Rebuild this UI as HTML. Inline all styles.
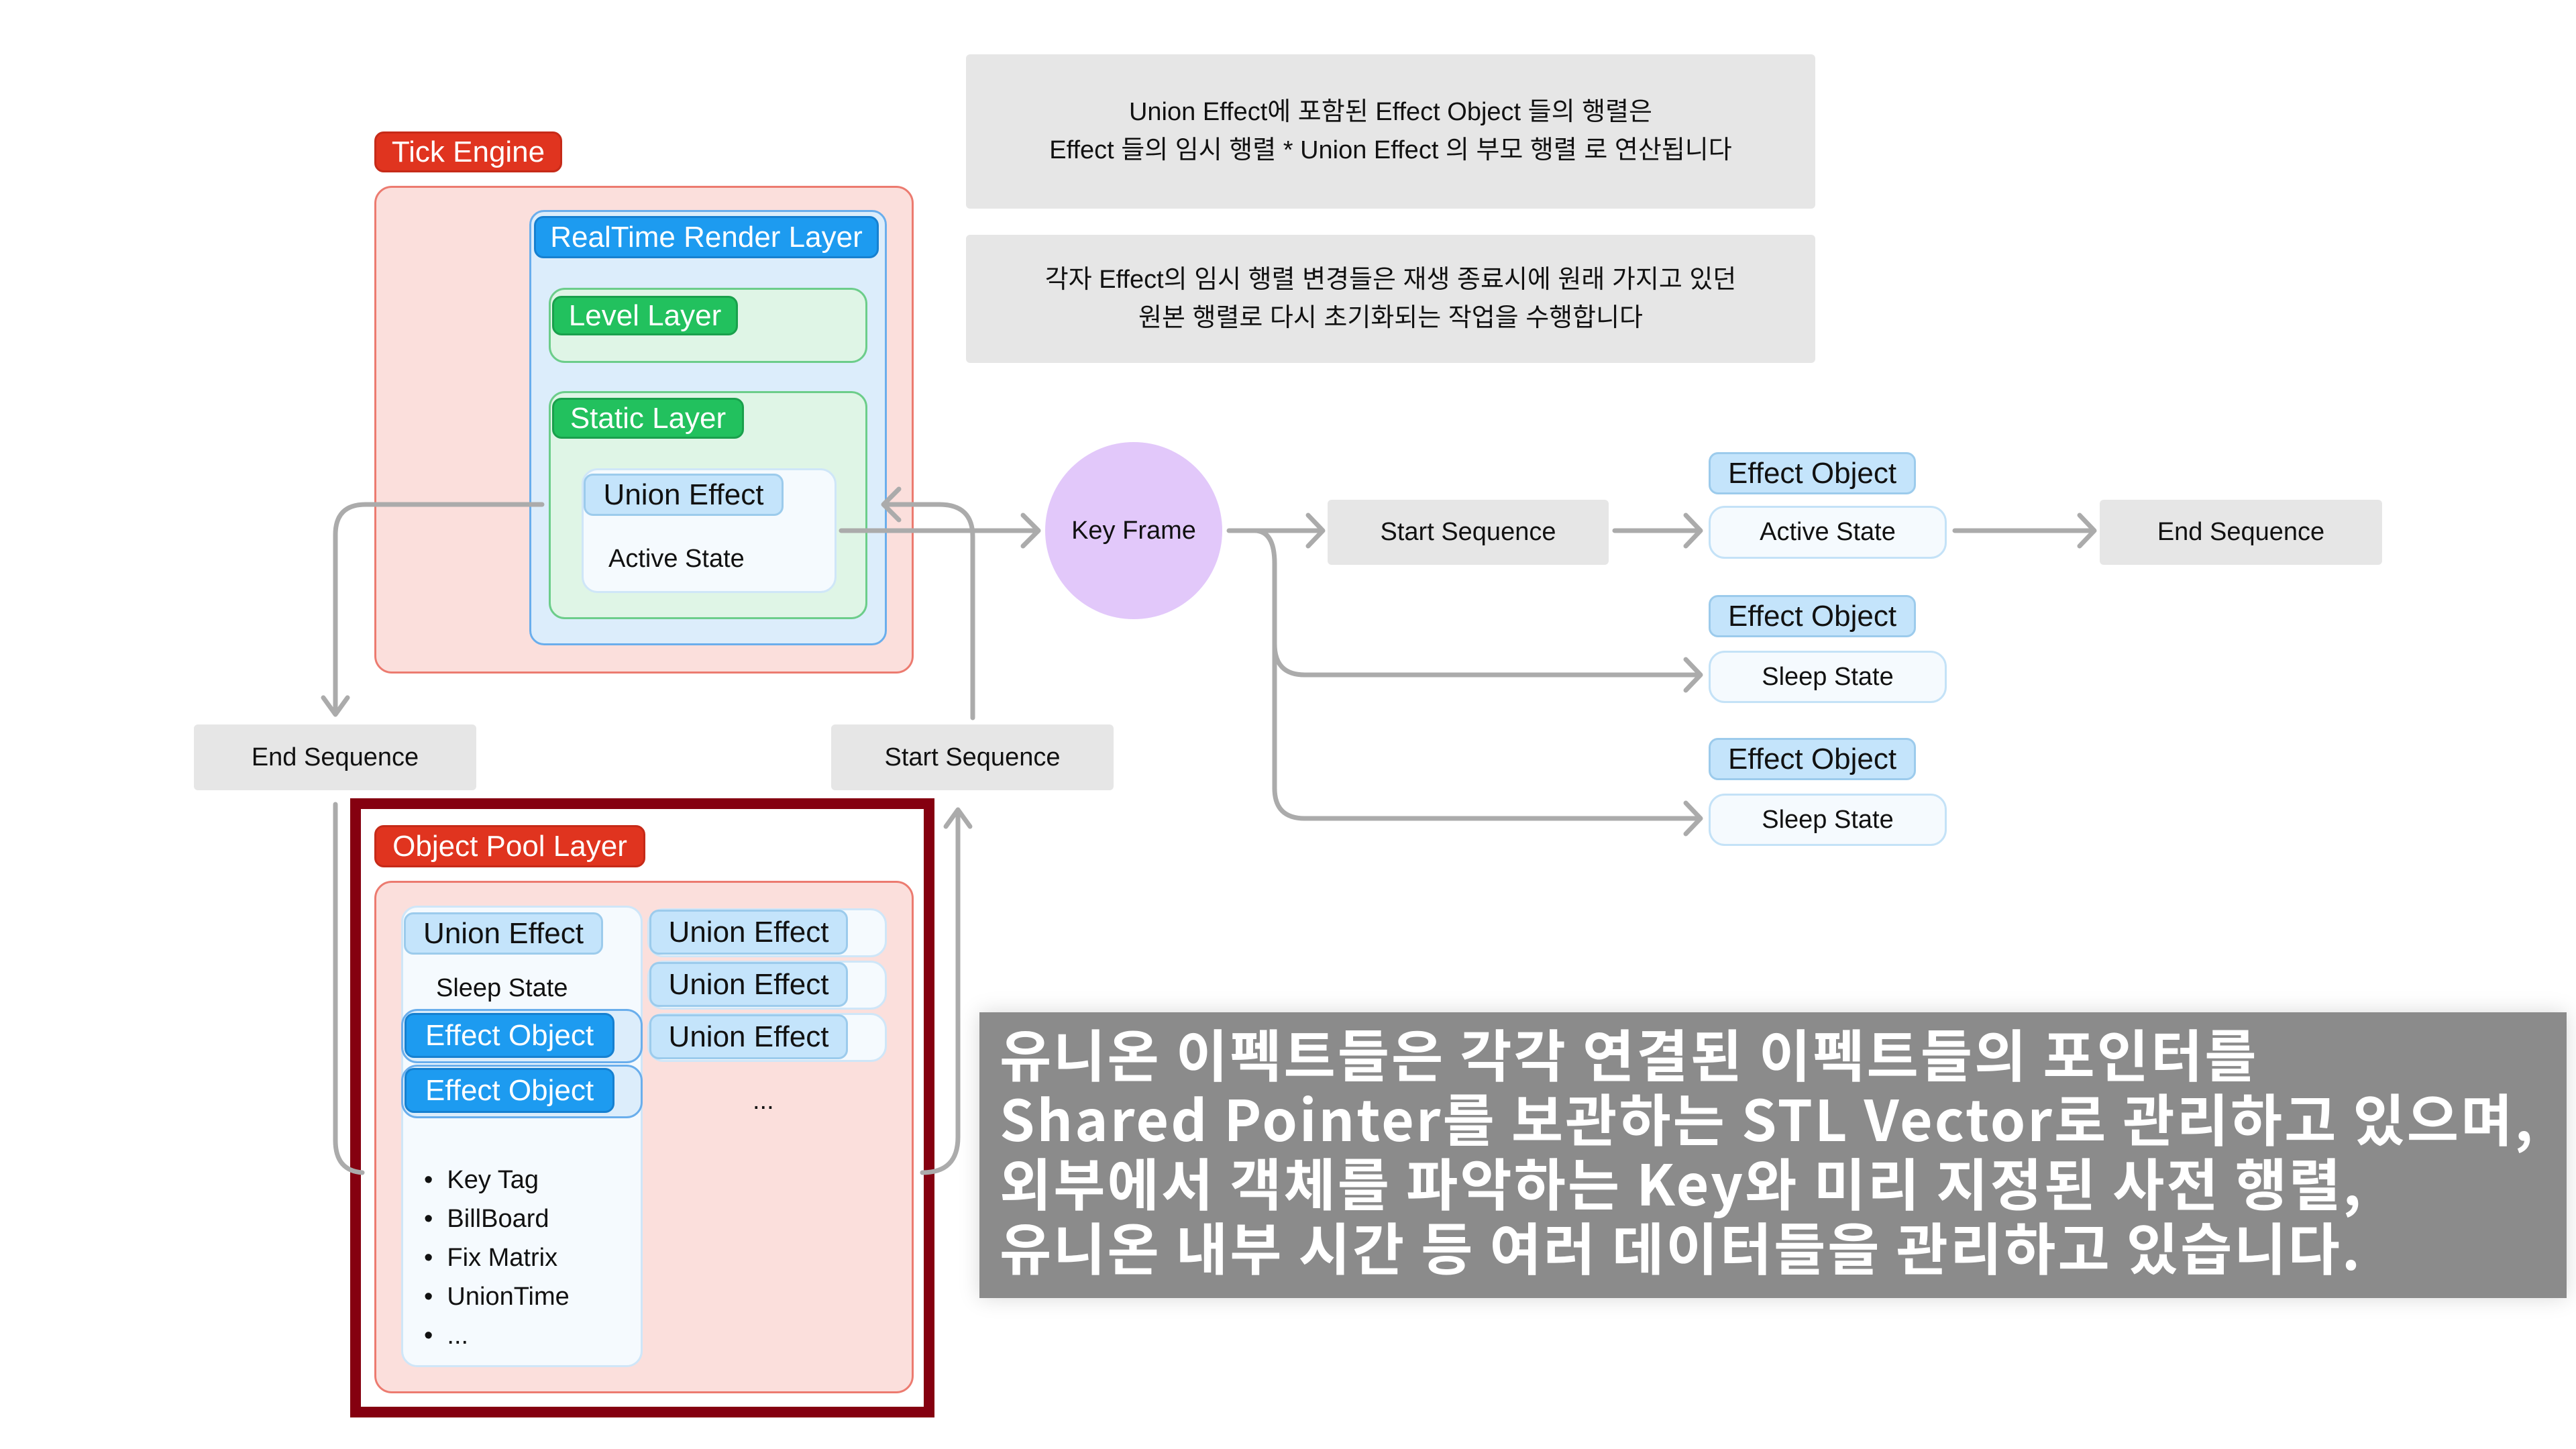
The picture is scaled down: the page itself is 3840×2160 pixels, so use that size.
<!DOCTYPE html>
<html><head><meta charset="utf-8"><style>
*{margin:0;padding:0;box-sizing:border-box}
body{width:3840px;height:2160px;background:#fff;position:relative;overflow:hidden;font-family:"Liberation Sans","Noto Sans CJK KR",sans-serif;color:#111}
.a{position:absolute}
.lbl{position:absolute;border-radius:14px;display:flex;align-items:center;justify-content:center;font-size:44px;white-space:nowrap}
.red{background:#e0341f;color:#fff;border:3px solid #c62a18}
.blue{background:#1d9bf0;color:#fff;border:3px solid #1680d0}
.green{background:#22c15e;color:#fff;border:3px solid #1aa04c}
.lb{background:#c4e4fb;color:#111;border:3px solid #9ccbec}
.gray{position:absolute;background:#e6e6e6;border-radius:6px;display:flex;align-items:center;justify-content:center;font-size:38px;text-align:center}
.st{position:absolute;background:#f5fafe;border:3px solid #c4e2f7;border-radius:24px;display:flex;align-items:center;justify-content:center;font-size:38px}
.t{position:absolute;font-size:38px;white-space:nowrap}
</style></head><body>

<div class="lbl red" style="left:558px;top:196px;width:280px;height:61px">Tick Engine</div>
<div class="a" style="left:558px;top:277px;width:804px;height:727px;background:#fbdfdc;border:3px solid #ec7b70;border-radius:26px"></div>
<div class="a" style="left:789px;top:313px;width:533px;height:649px;background:#dcedfb;border:3px solid #6aaeec;border-radius:22px"></div>
<div class="lbl blue" style="left:796px;top:322px;width:514px;height:63px">RealTime Render Layer</div>
<div class="a" style="left:818px;top:429px;width:475px;height:112px;background:#dff5e6;border:3px solid #6ccd8a;border-radius:24px"></div>
<div class="lbl green" style="left:823px;top:441px;width:277px;height:59px">Level Layer</div>
<div class="a" style="left:818px;top:583px;width:475px;height:340px;background:#dff5e6;border:3px solid #6ccd8a;border-radius:24px"></div>
<div class="lbl green" style="left:823px;top:593px;width:286px;height:61px">Static Layer</div>
<div class="a" style="left:867px;top:698px;width:380px;height:186px;background:#f5fafe;border:3px solid #cfe6f8;border-radius:24px"></div>
<div class="lbl lb" style="left:870px;top:706px;width:298px;height:63px">Union Effect</div>
<div class="t" style="left:907px;top:812px">Active State</div>

<div class="gray" style="left:1440px;top:81px;width:1266px;height:230px;line-height:57px">Union Effect에 포함된 Effect Object 들의 행렬은<br>Effect 들의 임시 행렬 * Union Effect 의 부모 행렬 로 연산됩니다</div>
<div class="gray" style="left:1440px;top:350px;width:1266px;height:191px;line-height:57px">각자 Effect의 임시 행렬 변경들은 재생 종료시에 원래 가지고 있던<br>원본 행렬로 다시 초기화되는 작업을 수행합니다</div>

<div class="a" style="left:1558px;top:659px;width:264px;height:264px;border-radius:50%;background:#e2c8fa;display:flex;align-items:center;justify-content:center;font-size:38px">Key Frame</div>

<div class="gray" style="left:1979px;top:745px;width:419px;height:97px">Start Sequence</div>
<div class="gray" style="left:3130px;top:745px;width:421px;height:97px">End Sequence</div>
<div class="lbl lb" style="left:2547px;top:674px;width:309px;height:63px">Effect Object</div>
<div class="st" style="left:2547px;top:754px;width:355px;height:79px">Active State</div>
<div class="lbl lb" style="left:2547px;top:887px;width:309px;height:63px">Effect Object</div>
<div class="st" style="left:2547px;top:970px;width:355px;height:78px">Sleep State</div>
<div class="lbl lb" style="left:2547px;top:1100px;width:309px;height:63px">Effect Object</div>
<div class="st" style="left:2547px;top:1183px;width:355px;height:78px">Sleep State</div>

<div class="gray" style="left:289px;top:1080px;width:421px;height:98px">End Sequence</div>
<div class="gray" style="left:1239px;top:1080px;width:421px;height:98px">Start Sequence</div>

<div class="a" style="left:522px;top:1190px;width:871px;height:923px;border:16px solid #850010"></div>
<div class="lbl red" style="left:558px;top:1230px;width:404px;height:63px">Object Pool Layer</div>
<div class="a" style="left:558px;top:1313px;width:804px;height:764px;background:#fbdfdc;border:3px solid #ec7b70;border-radius:26px"></div>
<div class="a" style="left:598px;top:1350px;width:360px;height:688px;background:#f5fafe;border:3px solid #cfe6f8;border-radius:24px"></div>
<div class="lbl lb" style="left:602px;top:1360px;width:297px;height:63px">Union Effect</div>
<div class="t" style="left:650px;top:1452px">Sleep State</div>
<div class="a" style="left:598px;top:1504px;width:360px;height:81px;background:#dcedfb;border:3px solid #6aaeec;border-radius:24px"></div>
<div class="lbl blue" style="left:603px;top:1510px;width:313px;height:67px">Effect Object</div>
<div class="a" style="left:598px;top:1587px;width:360px;height:80px;background:#dcedfb;border:3px solid #6aaeec;border-radius:24px"></div>
<div class="lbl blue" style="left:603px;top:1592px;width:313px;height:67px">Effect Object</div>
<div class="t" style="left:632px;top:1730px;line-height:58px">•&nbsp; Key Tag<br>•&nbsp; BillBoard<br>•&nbsp; Fix Matrix<br>•&nbsp; UnionTime<br>•&nbsp; ...</div>

<div class="a" style="left:965px;top:1354px;width:357px;height:73px;background:#f5fafe;border:3px solid #cfe6f8;border-radius:24px"></div>
<div class="lbl lb" style="left:968px;top:1356px;width:296px;height:67px">Union Effect</div>
<div class="a" style="left:965px;top:1432px;width:357px;height:73px;background:#f5fafe;border:3px solid #cfe6f8;border-radius:24px"></div>
<div class="lbl lb" style="left:968px;top:1434px;width:296px;height:67px">Union Effect</div>
<div class="a" style="left:965px;top:1510px;width:357px;height:73px;background:#f5fafe;border:3px solid #cfe6f8;border-radius:24px"></div>
<div class="lbl lb" style="left:968px;top:1512px;width:296px;height:67px">Union Effect</div>
<div class="t" style="left:1122px;top:1620px">...</div>

<svg class="a" style="left:0;top:0" width="3840" height="2160" fill="none" stroke="#ababab" stroke-width="7" stroke-linecap="round" stroke-linejoin="round">
<path d="M808 752 H545 Q500 752 500 797 V1062"/><path d="M482 1040 L500 1065 L518 1040"/>
<path d="M1254 791 H1542"/><path d="M1525 768 L1548 791 L1525 814"/>
<path d="M1450 1070 V800 Q1450 752 1400 752 H1322"/><path d="M1340 729 L1317 752 L1340 775"/>
<path d="M1832 791 H1965"/><path d="M1950 768 L1972 791 L1950 814"/>
<path d="M1870 791 Q1900 791 1900 840 V960 Q1900 1006 1945 1006 H2530"/><path d="M2513 983 L2535 1006 L2513 1029"/>
<path d="M1900 950 V1175 Q1900 1220 1945 1220 H2530"/><path d="M2513 1197 L2535 1220 L2513 1243"/>
<path d="M2407 791 H2530"/><path d="M2513 768 L2535 791 L2513 814"/>
<path d="M2914 791 H3118"/><path d="M3100 768 L3122 791 L3100 814"/>
<path d="M500 1199 V1700 Q500 1745 540 1748"/>
<path d="M1375 1748 Q1428 1748 1428 1695 V1210"/><path d="M1410 1232 L1428 1207 L1446 1232"/>
</svg>

<div class="a" style="left:1460px;top:1509px;width:2366px;height:426px;background:#8b8b8b;box-shadow:0 0 30px rgba(0,0,0,0.15)"></div>
<div class="a" style="left:1490px;top:1522px;font-size:84px;line-height:96px;color:#fff;white-space:nowrap;letter-spacing:3px;font-weight:bold;font-family:'Noto Sans CJK KR','Liberation Sans',sans-serif">유니온 이펙트들은 각각 연결된 이펙트들의 포인터를<br>Shared Pointer를 보관하는 STL Vector로 관리하고 있으며,<br>외부에서 객체를 파악하는 Key와 미리 지정된 사전 행렬,<br>유니온 내부 시간 등 여러 데이터들을 관리하고 있습니다.</div>
</body></html>
